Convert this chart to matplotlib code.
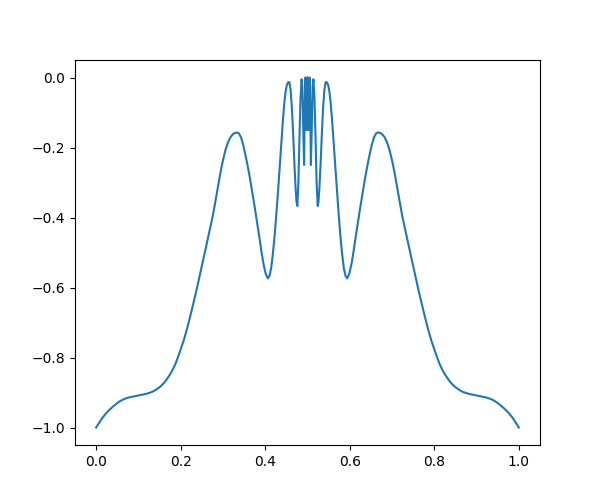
import numpy as np
import matplotlib
matplotlib.use("Agg")
import matplotlib.pyplot as plt

x_vals = [
    0.000, 0.008, 0.015, 0.023, 0.031, 0.039, 0.047, 0.055, 0.062, 0.070,
    0.078, 0.086, 0.094, 0.102, 0.110, 0.118, 0.126, 0.133, 0.139, 0.145,
    0.151, 0.157, 0.163, 0.169, 0.175, 0.181, 0.187, 0.193, 0.199, 0.207,
    0.215, 0.222, 0.229, 0.237, 0.244, 0.252, 0.260, 0.268, 0.276, 0.282,
    0.288, 0.294, 0.300, 0.306, 0.312, 0.318, 0.325, 0.333, 0.338, 0.343,
    0.348, 0.353, 0.358, 0.363, 0.368, 0.374, 0.380, 0.386, 0.391, 0.396,
    0.401, 0.406, 0.410, 0.414, 0.418, 0.422, 0.426, 0.430, 0.434, 0.438,
    0.442, 0.445, 0.448, 0.451, 0.454, 0.457, 0.460, 0.463, 0.466, 0.469,
    0.472, 0.474, 0.476,
    0.4785, 0.4810, 0.4835, 0.4860, 0.4880, 0.4900, 0.4920, 0.4935, 0.4950,
    0.4960, 0.4970, 0.4980, 0.4990, 0.5000, 0.5010, 0.5020, 0.5030, 0.5040,
    0.5050, 0.5065, 0.5080, 0.5100, 0.5120, 0.5140, 0.5165, 0.5190, 0.5215,
    0.524, 0.526, 0.528, 0.531, 0.534, 0.537, 0.540, 0.543, 0.546, 0.549,
    0.552, 0.555, 0.558, 0.562, 0.566, 0.570, 0.574, 0.578, 0.582, 0.586,
    0.590, 0.594, 0.599, 0.604, 0.609, 0.614, 0.620, 0.626, 0.632, 0.637,
    0.642, 0.647, 0.652, 0.657, 0.662, 0.667, 0.675, 0.682, 0.688, 0.694,
    0.700, 0.706, 0.712, 0.718, 0.724, 0.732, 0.740, 0.748, 0.756, 0.763,
    0.771, 0.778, 0.785, 0.793, 0.801, 0.807, 0.813, 0.819, 0.825, 0.831,
    0.837, 0.843, 0.849, 0.855, 0.861, 0.867, 0.874, 0.882, 0.890, 0.898,
    0.906, 0.914, 0.922, 0.930, 0.938, 0.945, 0.953, 0.961, 0.969, 0.977,
    0.985, 0.992, 1.000,
]
y_vals = [
    -1.000, -0.985, -0.972, -0.960, -0.950, -0.941, -0.933, -0.926, -0.921, -0.917,
    -0.914, -0.912, -0.910, -0.908, -0.906, -0.904, -0.901, -0.898, -0.894, -0.889,
    -0.884, -0.877, -0.869, -0.859, -0.848, -0.835, -0.820, -0.801, -0.780, -0.752,
    -0.718, -0.685, -0.650, -0.610, -0.572, -0.528, -0.484, -0.440, -0.395, -0.355,
    -0.313, -0.272, -0.237, -0.207, -0.185, -0.170, -0.160, -0.157, -0.160, -0.172,
    -0.193, -0.220, -0.250, -0.282, -0.318, -0.362, -0.408, -0.455, -0.497, -0.533,
    -0.560, -0.574, -0.567, -0.545, -0.505, -0.455, -0.395, -0.331, -0.260, -0.189,
    -0.120, -0.075, -0.042, -0.022, -0.014, -0.013, -0.035, -0.085, -0.160, -0.246,
    -0.320, -0.355, -0.367,
    -0.300, -0.170, -0.060, -0.005, -0.030, -0.150, -0.250, -0.080, 0.000,
    -0.150, -0.010, -0.150, 0.000, -0.120, 0.000, -0.150, -0.010, -0.150,
    0.000, -0.080, -0.250, -0.150, -0.030, -0.005, -0.060, -0.170, -0.300,
    -0.367, -0.355, -0.320, -0.246, -0.160, -0.085, -0.035, -0.013, -0.014, -0.022,
    -0.042, -0.075, -0.120, -0.189, -0.260, -0.331, -0.395, -0.455, -0.505, -0.545,
    -0.567, -0.574, -0.560, -0.533, -0.497, -0.455, -0.408, -0.362, -0.318, -0.282,
    -0.250, -0.220, -0.193, -0.172, -0.160, -0.157, -0.160, -0.170, -0.185, -0.207,
    -0.237, -0.272, -0.313, -0.355, -0.395, -0.440, -0.484, -0.528, -0.572, -0.610,
    -0.650, -0.685, -0.718, -0.752, -0.780, -0.801, -0.820, -0.835, -0.848, -0.859,
    -0.869, -0.877, -0.884, -0.889, -0.894, -0.898, -0.901, -0.904, -0.906, -0.908,
    -0.910, -0.912, -0.914, -0.917, -0.921, -0.926, -0.933, -0.941, -0.950, -0.960,
    -0.972, -0.985, -1.000,
]

fig, ax = plt.subplots(figsize=(6, 5), dpi=100)
ax.plot(x_vals, y_vals, color="C0", linewidth=1.5)
fig.savefig("out.png")
